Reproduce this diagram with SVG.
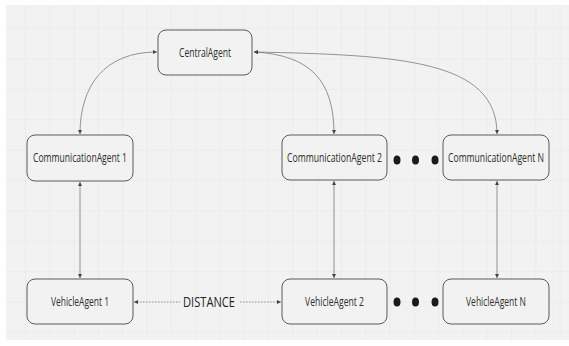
<svg xmlns="http://www.w3.org/2000/svg" width="569" height="346" viewBox="0 0 569 346">
<style>
.box{fill:#f2f2f2;stroke:#5a5a5a;stroke-width:1}
.lbl{font-family:"Open Sans","Liberation Sans",sans-serif;font-size:12px;fill:#2e2e2e;text-anchor:middle}
.big{font-family:"Open Sans","Liberation Sans",sans-serif;font-size:15px;fill:#222;text-anchor:middle}
.con{fill:none;stroke:#7a7a7a;stroke-width:0.8}
.dot{fill:#1a1a1a}
</style>
<defs>
<pattern id="grid" patternUnits="userSpaceOnUse" x="25" y="28" width="24.3" height="30.4">
<path d="M0 0V30.4M0 0H24.3" fill="none" stroke="#e4e4e4" stroke-width="1"/>
</pattern>
<marker id="arr" viewBox="0 0 6 6" refX="6" refY="3" markerWidth="4" markerHeight="4" orient="auto-start-reverse" markerUnits="userSpaceOnUse">
<path d="M0 0L6 3L0 6Z" fill="#444"/>
</marker>
</defs>
<rect x="0" y="0" width="569" height="346" fill="#ffffff"/>
<rect x="6" y="5" width="563" height="335" fill="#f2f2f2"/>
<rect x="6" y="5" width="563" height="335" fill="url(#grid)"/>
<g id="connectors">
<path class="con" d="M80 134C80 85 105 52 157 52" marker-start="url(#arr)" marker-end="url(#arr)"/>
<path class="con" d="M334 134C334 80 310 55 254 52" marker-start="url(#arr)" marker-end="url(#arr)"/>
<path class="con" d="M497 134C497 60 400 55 254 52" marker-start="url(#arr)" marker-end="url(#arr)"/>
<path class="con" d="M80 182V278" marker-start="url(#arr)" marker-end="url(#arr)"/>
<path class="con" d="M334 181V278" marker-start="url(#arr)" marker-end="url(#arr)"/>
<path class="con" d="M497 181V278" marker-start="url(#arr)" marker-end="url(#arr)"/>
<path class="con" d="M134 302H180" stroke-dasharray="1.5 1.5" marker-start="url(#arr)"/>
<path class="con" d="M240 302H281" stroke-dasharray="1.5 1.5" marker-end="url(#arr)"/>
<text class="big" transform="translate(209 307) scale(0.74 1)" x="0" y="0" textLength="70.3" lengthAdjust="spacingAndGlyphs">DISTANCE</text>
</g>
<g id="central">
<rect class="box" x="158" y="30" width="94" height="45" rx="8"/>
<text class="lbl" transform="translate(205 57) scale(0.71 1)" x="0" y="0" textLength="73.2" lengthAdjust="spacingAndGlyphs">CentralAgent</text>
</g>
<g id="comm1">
<rect class="box" x="27" y="135" width="106" height="46" rx="8"/>
<text class="lbl" transform="translate(80 162) scale(0.71 1)" x="0" y="0" textLength="132.4" lengthAdjust="spacingAndGlyphs">CommunicationAgent 1</text>
</g>
<g id="comm2">
<rect class="box" x="282" y="135" width="105" height="45" rx="8"/>
<text class="lbl" transform="translate(334.5 162) scale(0.71 1)" x="0" y="0" textLength="133.8" lengthAdjust="spacingAndGlyphs">CommunicationAgent 2</text>
</g>
<g id="commN">
<rect class="box" x="443" y="135" width="106" height="45" rx="8"/>
<text class="lbl" transform="translate(496 162) scale(0.71 1)" x="0" y="0" textLength="135.2" lengthAdjust="spacingAndGlyphs">CommunicationAgent N</text>
</g>
<g id="veh1">
<rect class="box" x="27" y="279" width="106" height="45" rx="8"/>
<text class="lbl" transform="translate(80 306) scale(0.71 1)" x="0" y="0" textLength="81.7" lengthAdjust="spacingAndGlyphs">VehicleAgent 1</text>
</g>
<g id="veh2">
<rect class="box" x="282" y="279" width="105" height="45" rx="8"/>
<text class="lbl" transform="translate(334.5 306) scale(0.71 1)" x="0" y="0" textLength="83.1" lengthAdjust="spacingAndGlyphs">VehicleAgent 2</text>
</g>
<g id="vehN">
<rect class="box" x="443" y="279" width="106" height="45" rx="8"/>
<text class="lbl" transform="translate(496 306) scale(0.71 1)" x="0" y="0" textLength="84.5" lengthAdjust="spacingAndGlyphs">VehicleAgent N</text>
</g>
<g id="ellipsis-top">
<ellipse class="dot" cx="397" cy="160" rx="3.5" ry="4.5"/>
<ellipse class="dot" cx="415.5" cy="160" rx="3.5" ry="4.5"/>
<ellipse class="dot" cx="435" cy="160" rx="3.5" ry="4.5"/>
</g>
<g id="ellipsis-bottom">
<ellipse class="dot" cx="397" cy="302" rx="3.5" ry="4.5"/>
<ellipse class="dot" cx="415.5" cy="302" rx="3.5" ry="4.5"/>
<ellipse class="dot" cx="435" cy="302" rx="3.5" ry="4.5"/>
</g>
</svg>
